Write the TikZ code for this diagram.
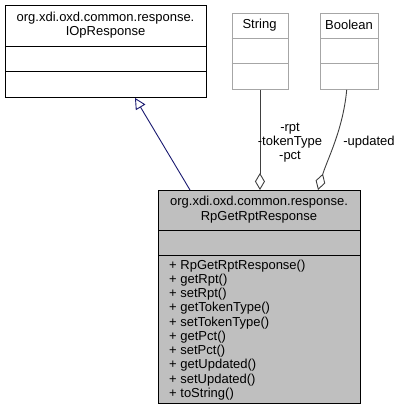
\documentclass[tikz,border=0pt]{standalone}
\usepackage{fontspec}
\setmainfont{Liberation Sans}
\usetikzlibrary{arrows.meta,calc}
\definecolor{clsgray}{HTML}{BFBFBF}
\definecolor{boxedge}{HTML}{A6A6A6}
\definecolor{inhcol}{HTML}{191970}
\definecolor{aggcol}{HTML}{404040}
\tikzset{
  umlbox/.style={draw=black, line width=0.9pt, fill=white, anchor=north west, inner sep=0pt},
  curbox/.style={draw=black, line width=0.9pt, fill=clsgray, anchor=north west, inner sep=0pt},
  extbox/.style={draw=boxedge, line width=0.9pt, fill=white, anchor=north west, inner sep=0pt},
  txt/.style={font=\fontsize{13}{14.3}\selectfont, inner sep=0pt, align=center},
  mtxt/.style={font=\fontsize{13}{14.26}\selectfont, inner sep=0pt, align=left, anchor=north west},
  inh/.style={draw=inhcol, line width=0.9pt, -{Triangle[open, length=11pt, width=11pt, fill=white]}},
  agg/.style={draw=aggcol, line width=0.9pt, -{Diamond[open, length=17pt, width=10pt, fill=white]}},
}
\begin{document}
\begin{tikzpicture}[x=1pt,y=-1pt]
\useasboundingbox (0,0) rectangle (401,419);
% IOpResponse
\node[umlbox, minimum width=201pt, minimum height=92pt] (iop) at (5,5) {};
\draw[line width=0.9pt] (5,46) -- (206,46);
\draw[line width=0.9pt] (5,71) -- (206,71);
\node[txt] (iopt) at (105.5,25) {org.xdi.oxd.common.response.\\IOpResponse};
% String
\node[extbox, minimum width=56pt, minimum height=76pt] (str) at (231.5,13) {};
\draw[boxedge, line width=0.9pt] (231.5,38) -- (287.5,38);
\draw[boxedge, line width=0.9pt] (231.5,63) -- (287.5,63);
\node[txt] (strt) at (259.5,25) {String};
% Boolean
\node[extbox, minimum width=58pt, minimum height=76pt] (boo) at (320,13) {};
\draw[boxedge, line width=0.9pt] (320,38) -- (378,38);
\draw[boxedge, line width=0.9pt] (320,63) -- (378,63);
\node[txt] (boot) at (349,25) {Boolean};
% RpGetRptResponse
\node[curbox, minimum width=202pt, minimum height=213pt] (rp) at (158,190) {};
\draw[line width=0.9pt] (158,230) -- (360,230);
\draw[line width=0.9pt] (158,255) -- (360,255);
\node[txt] (rpt) at (259,209.5) {org.xdi.oxd.common.response.\\RpGetRptResponse};
\node[mtxt] (meth) at (169,259.5) {+ RpGetRptResponse()\\+ getRpt()\\+ setRpt()\\+ getTokenType()\\+ setTokenType()\\+ getPct()\\+ setPct()\\+ getUpdated()\\+ setUpdated()\\+ toString()};
% connectors
\draw[inh] ($(rp.north west)+(32,0)$) -- ($(iop.south west)+(130,0)$);
\draw[agg] (str.south) -- (str.south |- rp.north);
\draw[agg] ($(boo.south west)+(26.7,0)$) .. controls (343,130) and (327,160) .. ($(rp.north west)+(160,0)$);
\node[txt] (lab1) at (290,142.5) {-rpt\\-tokenType\\-pct};
\node[txt] (lab2) at (369,142.5) {-updated};
\end{tikzpicture}
\end{document}
